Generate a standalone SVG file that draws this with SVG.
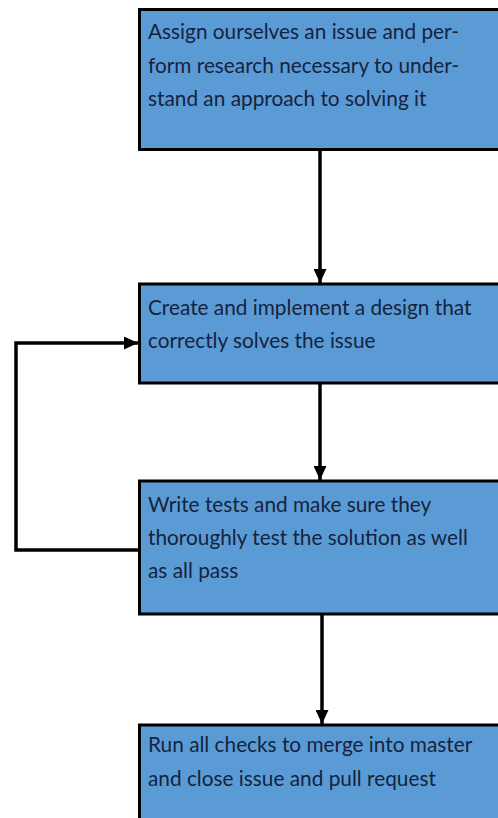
<svg xmlns="http://www.w3.org/2000/svg" width="498" height="818" viewBox="0 0 498 818">
<defs>
<marker id="ah" markerUnits="userSpaceOnUse" markerWidth="14" markerHeight="13" viewBox="0 0 14 13" refX="14" refY="6.5" orient="auto">
<path d="M0,0 L14,6.5 L0,13 Z" fill="#000"/>
</marker>
<style>
.box{fill:#5B9BD5;stroke:#000;stroke-width:3}
.t{font-family:Lato,"Liberation Sans",sans-serif;font-size:20.8px;fill:#15233f}
.c{fill:none;stroke:#000;stroke-width:3.5}
</style>
</defs>
<rect width="498" height="818" fill="#fff"/>
<g id="connectors">
<line class="c" x1="320" y1="150" x2="320" y2="283" marker-end="url(#ah)"/>
<line class="c" x1="320" y1="384" x2="320" y2="480" marker-end="url(#ah)"/>
<line class="c" x1="322" y1="615" x2="322" y2="724" marker-end="url(#ah)"/>
<polyline class="c" points="139,550 16,550 16,343 138,343" marker-end="url(#ah)"/>
</g>
<g id="node1">
<rect class="box" x="139.5" y="9.5" width="360" height="140"/>
<text class="t" x="148" y="39">Assign ourselves an issue and per-</text>
<text class="t" x="148" y="73">form research necessary to under-</text>
<text class="t" x="148" y="106">stand an approach to solving it</text>
</g>
<g id="node2">
<rect class="box" x="139.5" y="284" width="360" height="99"/>
<text class="t" x="148" y="315">Create and implement a design that</text>
<text class="t" x="148" y="348">correctly solves the issue</text>
</g>
<g id="node3">
<rect class="box" x="139.5" y="481" width="360" height="133"/>
<text class="t" x="148" y="512">Write tests and make sure they</text>
<text class="t" x="148" y="545">thoroughly test the solution as well</text>
<text class="t" x="148" y="578">as all pass</text>
</g>
<g id="node4">
<rect class="box" x="139.5" y="725" width="360" height="100"/>
<text class="t" x="148" y="752">Run all checks to merge into master</text>
<text class="t" x="148" y="786">and close issue and pull request</text>
</g>
</svg>
